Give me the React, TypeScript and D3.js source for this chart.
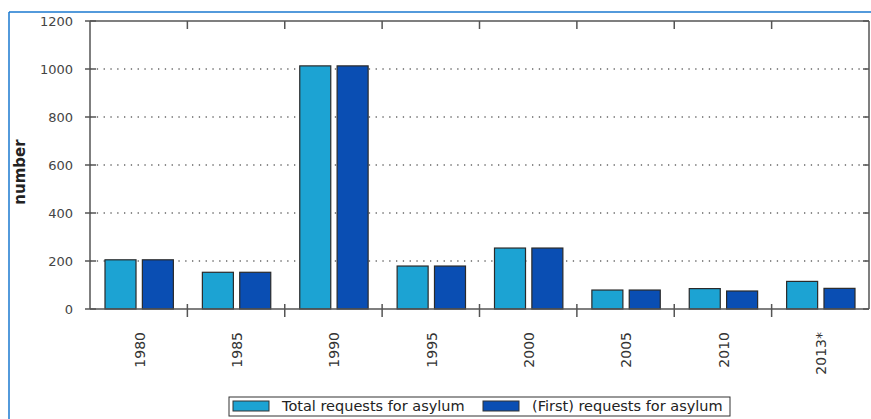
import React from "react";
import * as d3 from "d3";

const categories = ["1980", "1985", "1990", "1995", "2000", "2005", "2010", "2013*"];
const totalRequests = [205, 153, 1013, 179, 254, 79, 85, 115];
const firstRequests = [205, 153, 1013, 179, 254, 79, 75, 86];
const yTicks = [0, 200, 400, 600, 800, 1000, 1200];
const seriesNames = ["Total requests for asylum", "(First) requests for asylum"];
const seriesColors = ["#1ca3d3", "#0a4eb3"];

const W = 871;
const H = 419;
const M = { left: 90, right: 869, top: 21, bottom: 309 };

export default function App() {
  const x = d3.scaleBand<string>().domain(categories).range([M.left, M.right]).padding(0);
  const bw = x.bandwidth();
  const sub = d3.scaleBand<string>().domain(["t", "f"]).range([15, bw - 14]).paddingInner(0.17);
  const y = d3.scaleLinear().domain([0, 1200]).range([M.bottom, M.top]);
  const font = "'DejaVu Sans', Verdana, sans-serif";
  const axisColor = "#555";
  const series = [totalRequests, firstRequests];
  const keys = ["t", "f"];

  return (
    <svg width={W} height={H} style={{ position: "absolute", left: 0, top: 0, background: "#fff" }}>
      {/* outer frame */}
      <line x1={9} x2={W} y1={12} y2={12} stroke="#1a78cf" strokeWidth={1.5} />
      <line x1={9} x2={9} y1={12} y2={H} stroke="#1a78cf" strokeWidth={1.5} />

      {/* gridlines */}
      {yTicks.filter((t) => t > 0 && t < 1200).map((t) => (
        <line key={"g" + t} x1={M.left} x2={M.right} y1={y(t)} y2={y(t)} stroke="#666" strokeWidth={1.3} strokeDasharray="1.3 5.5" />
      ))}

      {/* bars */}
      {categories.map((c, i) =>
        series.map((s, j) => (
          <rect
            key={c + j}
            x={(x(c) as number) + (sub(keys[j]) as number)}
            y={y(s[i])}
            width={sub.bandwidth()}
            height={y(0) - y(s[i])}
            fill={seriesColors[j]}
            stroke="#2a2a2a"
            strokeWidth={1.2}
          />
        ))
      )}

      {/* axes frame */}
      <line x1={M.left} x2={M.right} y1={M.top} y2={M.top} stroke={axisColor} strokeWidth={1.5} />
      <line x1={M.left} x2={M.right} y1={M.bottom} y2={M.bottom} stroke={axisColor} strokeWidth={1.5} />
      <line x1={M.left} x2={M.left} y1={M.top} y2={M.bottom} stroke={axisColor} strokeWidth={1.5} />
      <line x1={M.right} x2={M.right} y1={M.top} y2={M.bottom} stroke={axisColor} strokeWidth={1.5} />

      {/* y ticks and labels */}
      {yTicks.map((t) => (
        <g key={"y" + t}>
          <line x1={M.left - 5} x2={M.left + 6} y1={y(t)} y2={y(t)} stroke={axisColor} strokeWidth={1.5} />
          <line x1={M.right - 6} x2={M.right} y1={y(t)} y2={y(t)} stroke={axisColor} strokeWidth={1.5} />
          <text x={73} y={y(t)} dy="0.35em" textAnchor="end" fontFamily={font} fontSize={13} fill="#444">
            {t}
          </text>
        </g>
      ))}

      {/* category boundary ticks */}
      {categories.slice(1).map((c) => (
        <g key={"xt" + c}>
          <line x1={x(c)} x2={x(c)} y1={M.bottom - 5} y2={M.bottom + 8} stroke={axisColor} strokeWidth={1.5} />
          <line x1={x(c)} x2={x(c)} y1={M.top} y2={M.top + 8} stroke={axisColor} strokeWidth={1.5} />
        </g>
      ))}

      {/* x labels */}
      {categories.map((c) => {
        const cx = (x(c) as number) + bw / 2 + 1;
        return (
          <text
            key={"xl" + c}
            transform={`translate(${cx},${332}) rotate(-90)`}
            textAnchor="end"
            dy="0.35em"
            fontFamily={font}
            fontSize={14}
            fill="#333"
          >
            {c}
          </text>
        );
      })}

      {/* y title */}
      <text
        transform={`translate(25,172) rotate(-90)`}
        textAnchor="middle"
        fontFamily={font}
        fontSize={15}
        fontWeight="bold"
        fill="#222"
      >
        number
      </text>

      {/* legend */}
      <rect x={229} y={397} width={501} height={19} fill="#fff" stroke="#333" strokeWidth={1} />
      {seriesNames.map((n, j) => {
        const sx = j === 0 ? 233 : 483;
        const tx = j === 0 ? 282 : 532;
        return (
          <g key={"lg" + j}>
            <rect x={sx} y={401} width={36} height={10} fill={seriesColors[j]} stroke="#333" strokeWidth={1} />
            <text x={tx} y={406} dy="0.35em" fontFamily={font} fontSize={14.5} fill="#222">
              {n}
            </text>
          </g>
        );
      })}
    </svg>
  );
}
